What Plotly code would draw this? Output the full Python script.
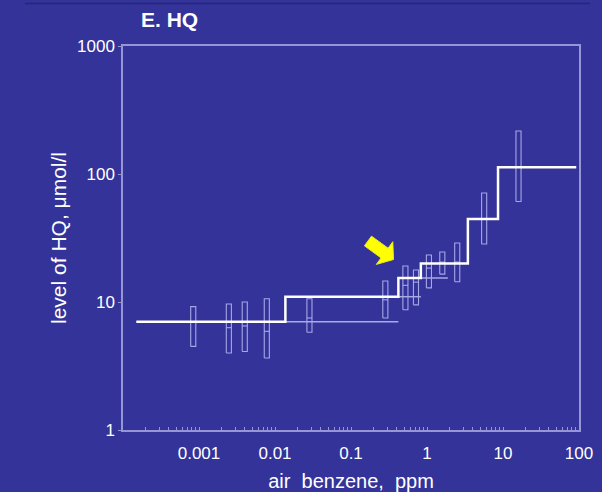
import math
import plotly.graph_objects as go

# Stepwise fit of HQ level against air benzene exposure
step_x = [0.00015, 0.0137, 0.42, 0.83, 3.45, 8.6, 92]
step_y = [7, 11, 15.4, 20, 44.5, 113, 113]

# Thin carry-over of each previous level
thin_x0 = [0.00015, 0.42, 0.83]
thin_x1 = [0.42, 0.83, 1.88]
thin_y = [7, 11, 15.4]

# Group ranges: centre exposure, low, median, high
box_x = [0.00084, 0.00247, 0.0040, 0.0078, 0.0284, 0.283, 0.52, 0.716, 1.06, 1.59, 2.5, 5.65, 16.0]
box_lo = [4.5, 4.0, 4.1, 3.65, 5.8, 7.5, 8.7, 9.5, 12.9, 16.5, 14.4, 28.4, 61]
box_med = [7.0, 6.3, 6.5, 5.9, 7.5, 10.4, 13.5, 14.3, 18.4, 20.5, 20.5, 44.5, 113]
box_hi = [9.2, 9.65, 10.0, 10.6, 10.6, 14.6, 19.1, 17.8, 23.3, 24.6, 28.9, 71, 217]

x_ticks = [0.001, 0.01, 0.1, 1, 10, 100]
x_tick_text = ["0.001", "0.01", "0.1", "1", "10", "100"]
y_ticks = [1, 10, 100, 1000]
y_tick_text = ["1", "10", "100", "1000"]
x_minor = [m * 10.0 ** e for e in range(-4, 2) for m in range(2, 10)]

BG = "rgb(51,51,153)"
FRAME = "rgb(150,150,215)"
BOXC = "rgba(180,180,240,0.9)"
HALF = 1.08  # multiplicative half-width of a range box on the log axis

W, H = 602, 492
ML, MR, MT, MB = 123, 23, 46, 62

fig = go.Figure()

# range boxes with median ticks
bx, by = [], []
for c, lo, md, hi in zip(box_x, box_lo, box_med, box_hi):
    a, b = c / HALF, c * HALF
    bx += [a, b, b, a, a, None, a, b, None]
    by += [lo, lo, hi, hi, lo, None, md, md, None]
fig.add_trace(go.Scatter(x=bx, y=by, mode="lines",
                         line=dict(color=BOXC, width=1.1), hoverinfo="skip"))

# thin previous-level lines
tx, ty = [], []
for a, b, v in zip(thin_x0, thin_x1, thin_y):
    tx += [a, b, None]
    ty += [v, v, None]
fig.add_trace(go.Scatter(x=tx, y=ty, mode="lines",
                         line=dict(color="rgb(170,170,230)", width=1.5), hoverinfo="skip"))

# main step line
fig.add_trace(go.Scatter(x=step_x, y=step_y, mode="lines", line_shape="hv",
                         line=dict(color="white", width=2.5), hoverinfo="skip"))

# yellow block arrow (pixel geometry converted to paper coords)
pw, ph = W - ML - MR, H - MT - MB
def to_paper(px, py):
    return (px - ML) / pw, (H - MB - py) / ph

tail = (368.0, 241.0)
ang = math.radians(36)
ux, uy = math.cos(ang), math.sin(ang)
nx, ny = -uy, ux
shaft_len, head_len, sw, hw = 20.5, 11.0, 6.0, 14.0
base = (tail[0] + ux * shaft_len, tail[1] + uy * shaft_len)
tip = (base[0] + ux * head_len, base[1] + uy * head_len)
pts = [
    (tail[0] - nx * sw, tail[1] - ny * sw),
    (base[0] - nx * sw, base[1] - ny * sw),
    (base[0] - nx * hw, base[1] - ny * hw),
    tip,
    (base[0] + nx * hw, base[1] + ny * hw),
    (base[0] + nx * sw, base[1] + ny * sw),
    (tail[0] + nx * sw, tail[1] + ny * sw),
]
path = ""
for i, (px, py) in enumerate(pts):
    qx, qy = to_paper(px, py)
    path += ("M" if i == 0 else "L") + f"{qx:.4f},{qy:.4f} "
path += "Z"

shapes = [
    dict(type="path", xref="paper", yref="paper", path=path,
         fillcolor="rgb(255,255,0)", line=dict(color="rgb(235,235,30)", width=1)),
    dict(type="line", xref="paper", yref="paper",
         x0=to_paper(25, 0)[0], x1=to_paper(590, 0)[0],
         y0=to_paper(0, 3.5)[1], y1=to_paper(0, 3.5)[1],
         line=dict(color="rgb(38,38,120)", width=1.5)),
]

font = "Liberation Sans, Arial, Helvetica, sans-serif"

fig.update_layout(
    width=W, height=H,
    margin=dict(l=ML, r=MR, t=MT, b=MB),
    paper_bgcolor=BG, plot_bgcolor=BG,
    showlegend=False,
    font=dict(family=font, color="white", size=16),
    shapes=shapes,
    annotations=[
        dict(text="<b>E. HQ</b>", xref="paper", yref="paper",
             x=to_paper(139, 0)[0], y=to_paper(0, 19.5)[1],
             xanchor="left", yanchor="middle", showarrow=False,
             font=dict(size=21, color="white", family=font)),
    ],
    xaxis=dict(
        type="log", range=[-4, 2], automargin=False,
        tickvals=x_ticks, ticktext=x_tick_text,
        showgrid=False, zeroline=False,
        showline=True, mirror=True, linecolor=FRAME, linewidth=1.5,
        ticks="inside", ticklen=3, tickcolor=FRAME,
        ticklabelstandoff=7,
        tickfont=dict(size=17, color="white", family=font),
        minor=dict(tickmode="array", tickvals=x_minor, ticks="inside",
                   ticklen=3, tickcolor=FRAME, showgrid=False),
        title=dict(text="air\u00a0\u00a0benzene,\u00a0\u00a0ppm", standoff=12,
                   font=dict(size=20, color="white", family=font)),
    ),
    yaxis=dict(
        type="log", range=[0, 3], automargin=False,
        tickvals=y_ticks, ticktext=y_tick_text,
        showgrid=False, zeroline=False,
        showline=True, mirror=True, linecolor=FRAME, linewidth=1.5,
        ticks="outside", ticklen=3, tickcolor=FRAME,
        tickfont=dict(size=17, color="white", family=font),
        title=dict(text="level\u00a0of\u00a0HQ,\u00a0\u03bcmol/l", standoff=5,
                   font=dict(size=21, color="white", family=font)),
    ),
)

fig.write_html("out.html")
